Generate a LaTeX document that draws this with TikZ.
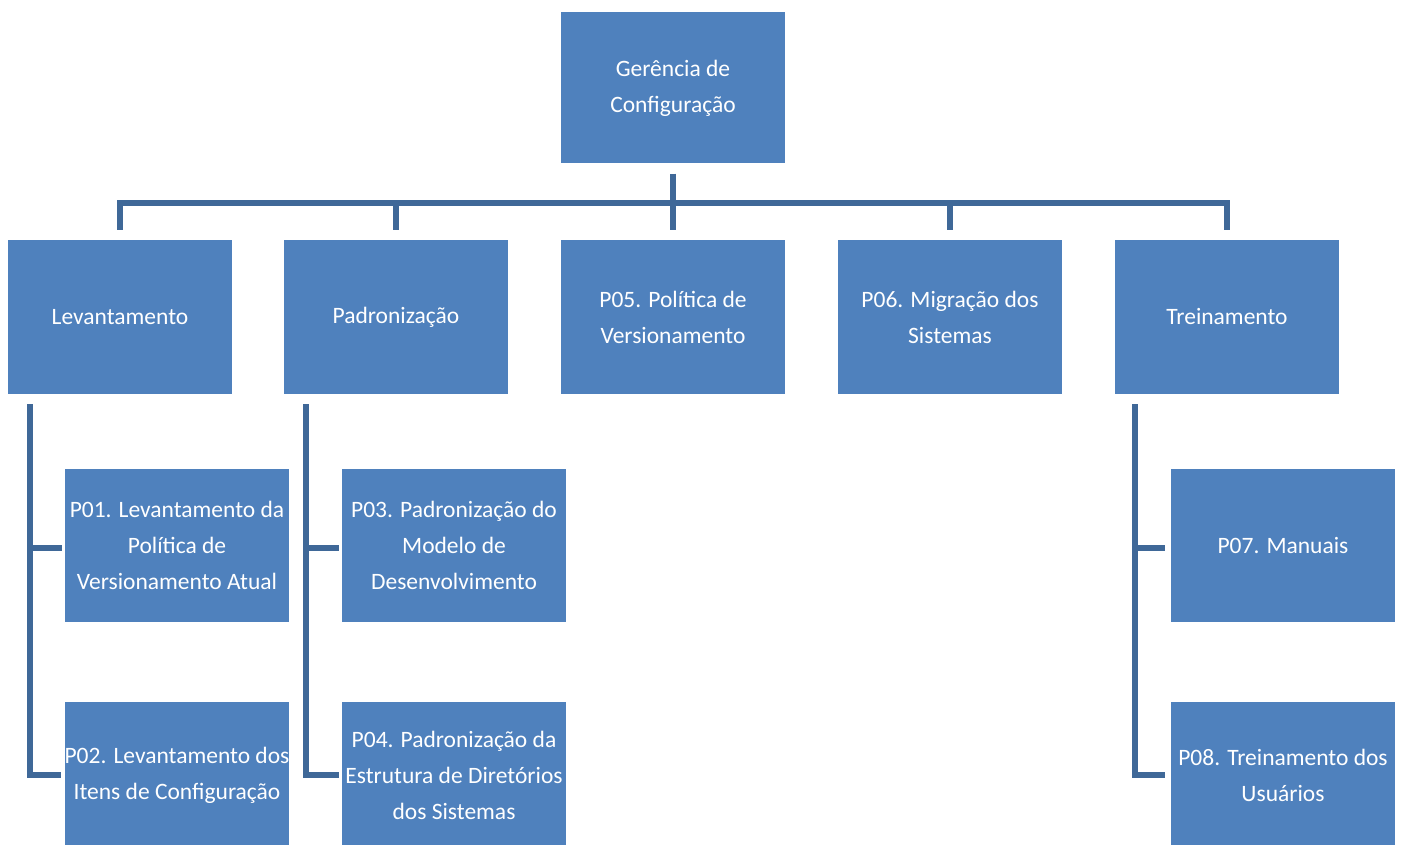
\documentclass[tikz,border=0pt]{standalone}
\usepackage{fontspec}
\setmainfont{Carlito}
\definecolor{boxblue}{HTML}{4F81BD}
\definecolor{linkblue}{HTML}{3F6898}
\begin{document}
\begin{tikzpicture}[x=1pt,y=-1pt,
  box/.style={fill=boxblue,draw=none,text=white,minimum width=224pt,minimum height=154pt,
    align=center,inner sep=0pt,font=\fontsize{23.5}{36}\selectfont},
  conn/.style={draw=linkblue,line width=6pt}]
\useasboundingbox (0,0) rectangle (1401,845);
\clip (0,0) rectangle (1401,845);
\node[box,minimum height=151pt] (top) at (673,88) {Gerência de\\Configuração};
\node[box] (lev) at (120,317) {Levantamento};
\node[box] (pad) at (396,317) {Padronização};
\node[box] (pv)  at (673,317) {P05. Política de\\Versionamento};
\node[box] (mig) at (950,317) {P06. Migração dos\\Sistemas};
\node[box] (tre) at (1227,317) {Treinamento};
\node[box,minimum height=153pt] (p01) at (177,545.5) {P01. Levantamento da\\Política de\\Versionamento Atual};
\node[box,minimum height=146pt] (p02) at (177,775) {P02. Levantamento dos\\Itens de Configuração};
\node[box,minimum height=153pt] (p03) at (454,545.5) {P03. Padronização do\\Modelo de\\Desenvolvimento};
\node[box,minimum height=146pt] (p04) at (454,775) {P04. Padronização da\\Estrutura de Diretórios\\dos Sistemas};
\node[box,minimum height=153pt] (p07) at (1283,545.5) {P07. Manuais};
\node[box,minimum height=146pt] (p08) at (1283,775) {P08. Treinamento dos\\Usuários};
% top connectors
\coordinate (bus) at (673,203);
\draw[conn] ([yshift=-10pt]top.south) -- ([yshift=10pt]pv.north);
\draw[conn] ([yshift=10pt]lev.north) |- (bus) -| ([yshift=10pt]tre.north);
\draw[conn] ([yshift=10pt]pad.north) -- (pad.north |- bus);
\draw[conn] ([yshift=10pt]mig.north) -- (mig.north |- bus);
% side trunks
\coordinate (levtr) at (30,404);
\coordinate (padtr) at (306,404);
\coordinate (tretr) at (1135,404);
\draw[conn] (levtr) |- ([xshift=-3pt]p02.west);
\draw[conn] (levtr |- p01.west) ++(0,2.5) -- ([xshift=-3pt,yshift=-2.5pt]p01.west);
\draw[conn] (padtr) |- ([xshift=-3pt]p04.west);
\draw[conn] (padtr |- p03.west) ++(0,2.5) -- ([xshift=-3pt,yshift=-2.5pt]p03.west);
\draw[conn] (tretr) |- ([xshift=-6pt]p08.west);
\draw[conn] (tretr |- p07.west) ++(0,2.5) -- ([xshift=-6pt,yshift=-2.5pt]p07.west);
\end{tikzpicture}
\end{document}
